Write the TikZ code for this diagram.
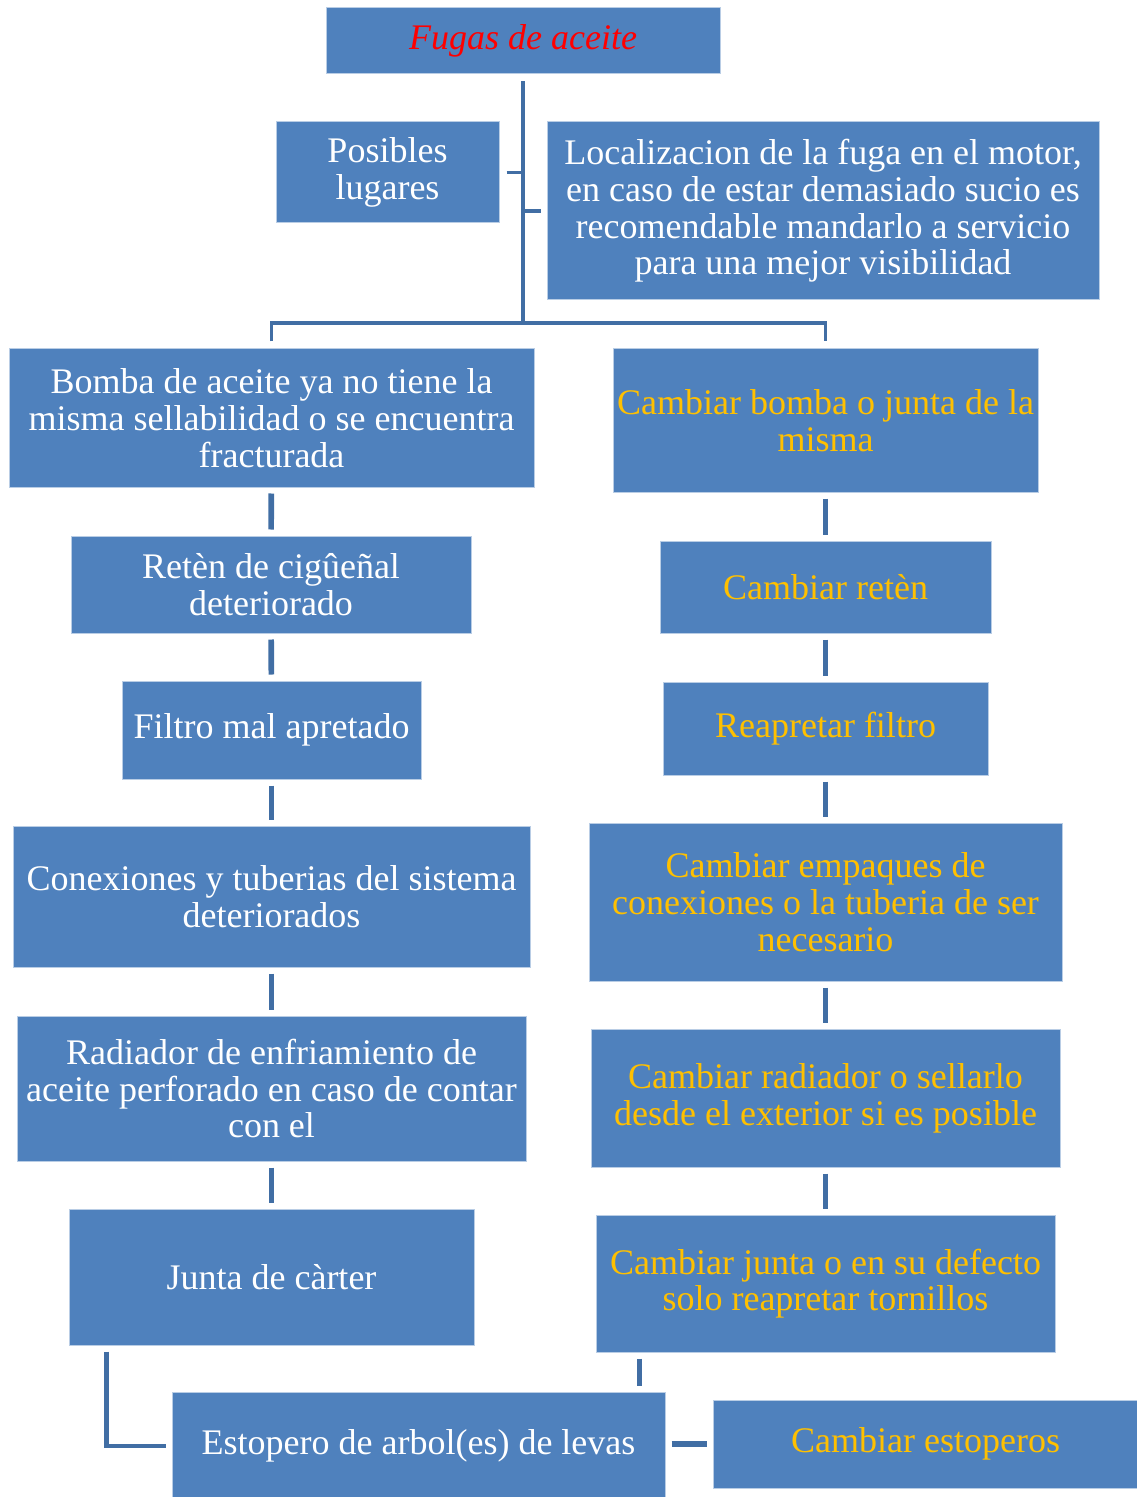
\documentclass[tikz,border=0pt]{standalone}
\usepackage{fontspec}
\setmainfont{Liberation Serif}
\usetikzlibrary{calc}
\definecolor{boxfill}{HTML}{4F81BD}
\definecolor{boxline}{HTML}{B9CDE5}
\definecolor{linkcol}{HTML}{416EA4}
\definecolor{fixcol}{HTML}{FFC000}
\tikzset{
  box/.style={draw=boxline,fill=boxfill,line width=0.5pt,inner sep=0pt,align=center,text=white,
    font=\fontsize{18pt}{18.35pt}\selectfont},
  fix/.style={box,text=fixcol},
  trunk/.style={draw=linkcol,line width=1.8pt},
  stub/.style={draw=linkcol,line width=2.8pt,shorten <=3pt,shorten >=3pt}
}

\begin{document}
\begin{tikzpicture}[x=0.5pt,y=-0.5pt]
  \useasboundingbox (0,0) rectangle (1136,1497);
  % 
  \node[box,text=red,minimum width=197pt,minimum height=33pt] (fugas) at (523,41) {\itshape Fugas de aceite};
  \node[box,minimum width=111.5pt,minimum height=50.5pt] (posibles) at (387.5,172.5) {Posibles\\lugares};
  \node[box,minimum width=276pt,minimum height=89pt] (local) at (823,211) {Localizacion de la fuga en el motor,\\en caso de estar demasiado sucio es\\recomendable mandarlo a servicio\\para una mejor visibilidad};
  % 
  \node[box,minimum width=262.5pt,minimum height=69pt] (bomba) at (271.5,418) {Bomba de aceite ya no tiene la\\misma sellabilidad o se encuentra\\fracturada};
  \node[box,minimum width=200pt,minimum height=48.5pt] (reten) at (271,584.5) {Retèn de cigûeñal\\deteriorado};
  \node[box,minimum width=149.5pt,minimum height=49pt] (filtro) at (271.5,730) {Filtro mal apretado};
  \node[box,minimum width=258.5pt,minimum height=70.5pt] (conex) at (271.5,896.5) {Conexiones y tuberias del sistema\\deteriorados};
  \node[box,minimum width=254.5pt,minimum height=72.5pt] (radiad) at (271.5,1088.5) {Radiador de enfriamiento de\\aceite perforado en caso de contar\\con el};
  \node[box,minimum width=202.5pt,minimum height=68pt] (junta) at (271.5,1277) {Junta de càrter};
  \node[box,minimum width=246.5pt,minimum height=54pt] (estop) at (418.5,1446) {Estopero de arbol(es) de levas};
  % 
  \node[fix,minimum width=212.5pt,minimum height=71.5pt] (cbomba) at (825.5,420.5) {Cambiar bomba o junta de la\\misma};
  \node[fix,minimum width=165.5pt,minimum height=46pt] (creten) at (825.5,587) {Cambiar retèn};
  \node[fix,minimum width=162.5pt,minimum height=46.5pt] (cfiltro) at (825.5,728.5) {Reapretar filtro};
  \node[fix,minimum width=236.5pt,minimum height=79pt] (cconex) at (825.5,902) {Cambiar empaques de\\conexiones o la tuberia de ser\\necesario};
  \node[fix,minimum width=234.5pt,minimum height=69pt] (cradiad) at (825.5,1098) {Cambiar radiador o sellarlo\\desde el exterior si es posible};
  \node[fix,minimum width=229.5pt,minimum height=68.5pt] (cjunta) at (825.5,1283.5) {Cambiar junta o en su defecto\\solo reapretar tornillos};
  \node[fix,minimum width=212.5pt,minimum height=44pt] (cestop) at (925.5,1444) {Cambiar estoperos};
  % 
  \coordinate (split) at (523,323);
  \draw[trunk] ([yshift=-3.5pt]fugas.south) -- (split);
  \draw[trunk] ([yshift=3.5pt]bomba.north) |- (split) -| ([yshift=3.5pt]cbomba.north);
  \draw[trunk] ([xshift=3.5pt]posibles.east) -- (posibles.east -| split);
  \draw[trunk] ([xshift=-3pt]local.west) -- (local.west -| split);
  % 
  \draw[stub] (bomba) -- (reten);
  \draw[stub] (reten) -- (filtro);
  \draw[stub] (filtro) -- (conex);
  \draw[stub] (conex) -- (radiad);
  \draw[stub] (radiad) -- (junta);
  \draw[stub] (cbomba) -- (creten);
  \draw[stub] (creten) -- (cfiltro);
  \draw[stub] (cfiltro) -- (cconex);
  \draw[stub] (cconex) -- (cradiad);
  \draw[stub] (cradiad) -- (cjunta);
  % 
  \coordinate (jc) at ([xshift=19pt]junta.south west);
  \draw[trunk,line width=2.3pt] ([yshift=-3pt]jc) |- ([xshift=-3pt]estop.west);
  \coordinate (cj) at ([xshift=22pt]cjunta.south west);
  \draw[stub] (cj) -- (cj |- estop.north);
  \draw[stub] (estop.east |- cestop.west) -- (cestop.west);
\end{tikzpicture}
\end{document}
